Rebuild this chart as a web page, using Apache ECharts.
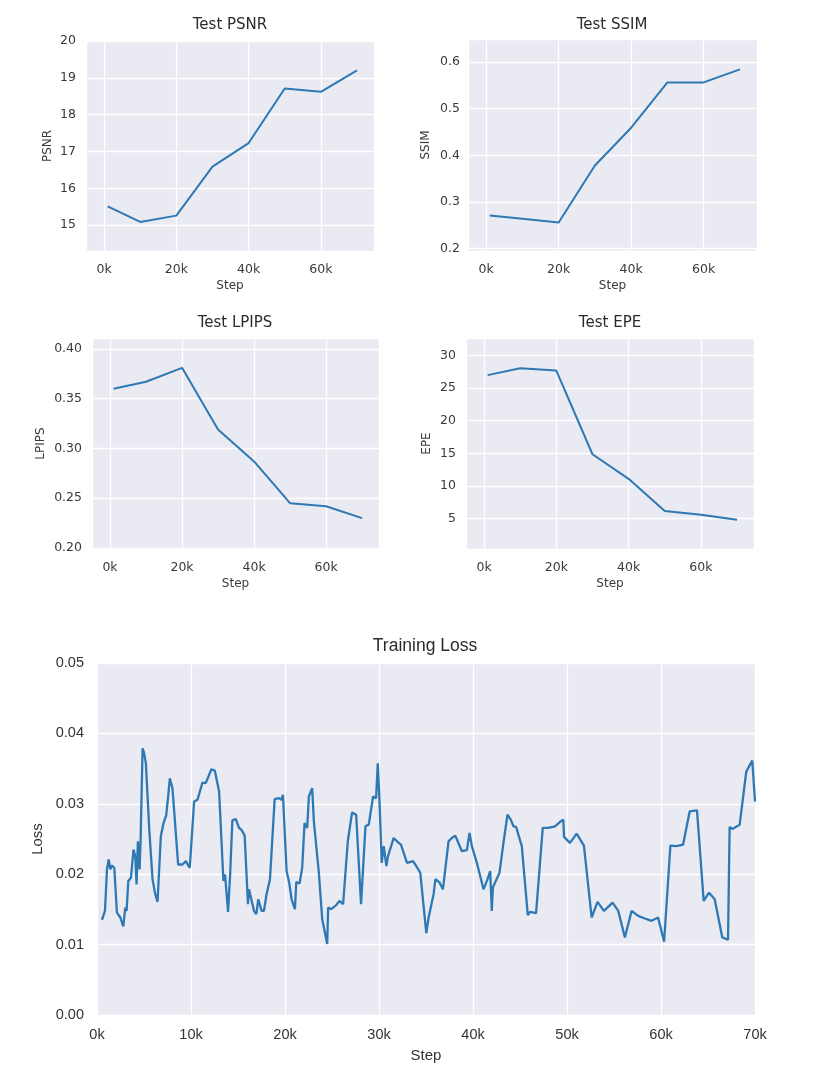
<!DOCTYPE html>
<html>
<head>
<meta charset="utf-8">
<script src="https://cdn.jsdelivr.net/npm/echarts@6/dist/echarts.min.js"></script>
<style>
  html, body { margin: 0; padding: 0; background: #ffffff; }
  #chart { width: 830px; height: 1077px; }
</style>
</head>
<body>
<div id="chart"></div>
<script>
// test metrics, evaluated every 10k steps (first eval just after start)
const testSteps = [1000, 10000, 20000, 30000, 40000, 50000, 60000, 70000];
const psnrValues = [15.51, 15.09, 15.26, 16.59, 17.23, 18.71, 18.62, 19.2];
const ssimValues = [0.271, 0.264, 0.256, 0.378, 0.459, 0.556, 0.556, 0.584];
const lpipsValues = [0.360, 0.367, 0.381, 0.319, 0.287, 0.245, 0.242, 0.230];
const epeValues = [27.0, 28.05, 27.7, 14.85, 11.07, 6.13, 5.57, 4.8];

// training loss
const lossSteps = [
  530, 850, 1060, 1240, 1420, 1590, 1840, 2120, 2480, 2800,
  3010, 3150, 3330, 3610, 3750, 3890, 4070, 4210, 4350, 4530,
  4640, 4850, 5020, 5200, 5560, 5910, 6160, 6440, 6790, 7080,
  7220, 7360, 7570, 7750, 8030, 8630, 9090, 9450, 9870, 10330,
  10690, 11220, 11570, 12170, 12530, 12990, 13450, 13620, 13800, 13940,
  14160, 14400, 14760, 15110, 15360, 15710, 16060, 16170, 16700, 16950,
  17160, 17510, 17760, 18040, 18400, 18900, 19360, 19610, 19780, 20170,
  20450, 20700, 21060, 21200, 21550, 21830, 22080, 22360, 22540, 22720,
  22890, 23070, 23600, 23960, 24490, 24590, 24910, 25370, 25800, 26180,
  26680, 27140, 27570, 28090, 28560, 28910, 29370, 29690, 29870, 30040,
  30290, 30500, 30790, 30960, 31560, 32090, 32340, 32980, 33620, 33970,
  34390, 35030, 35280, 35810, 36000, 36450, 36800, 37400, 37760, 38110,
  38820, 39350, 39630, 39880, 40410, 41120, 41540, 41830, 42000, 42110,
  42820, 43240, 43670, 44020, 44310, 44590, 45190, 45830, 46080, 46710,
  47420, 48020, 48720, 49330, 49610, 49680, 50320, 51030, 51800, 52620,
  53250, 53930, 54850, 55450, 56160, 56870, 57570, 58280, 58990, 59690,
  60330, 61000, 61640, 62350, 63050, 63830, 64540, 65110, 65710, 66520,
  67130, 67300, 67590, 68370, 69070, 69710, 70000
];
const lossValues = [
  0.01352, 0.01479, 0.02068, 0.02209, 0.02068, 0.02124, 0.02091, 0.01455, 0.01385, 0.01258,
  0.01526, 0.01479, 0.01903, 0.0195, 0.0194, 0.0235, 0.02256, 0.01856, 0.02468, 0.02068,
  0.02492, 0.03787, 0.03716, 0.03575, 0.02633, 0.01927, 0.01738, 0.01606, 0.02539, 0.02727,
  0.02784, 0.02831, 0.03104, 0.03363, 0.03222, 0.02138, 0.02138, 0.02186, 0.02091, 0.03033,
  0.03057, 0.03302, 0.03293, 0.0349, 0.03472, 0.03175, 0.01903, 0.01997, 0.02011, 0.01465,
  0.01983, 0.02765, 0.02784, 0.02657, 0.02633, 0.02548, 0.01573, 0.01785, 0.01479, 0.01432,
  0.01644, 0.01479, 0.0148, 0.01715, 0.01927, 0.03066, 0.0308, 0.03057, 0.03128, 0.02044,
  0.01879, 0.01644, 0.01503, 0.01889, 0.0187, 0.02091, 0.02727, 0.02657, 0.03104, 0.03128,
  0.03222, 0.02751, 0.02021, 0.01361, 0.01008, 0.01526, 0.01503, 0.0155, 0.0162, 0.01573,
  0.02468, 0.02878, 0.02845, 0.01573, 0.0268, 0.02704, 0.03104, 0.0308, 0.03575, 0.0308,
  0.02162, 0.02398, 0.02115, 0.02256, 0.02515, 0.02445, 0.02421, 0.02162, 0.02186, 0.02115,
  0.02021, 0.01163, 0.01385, 0.0172, 0.0193, 0.0188, 0.01785, 0.02468, 0.02515, 0.02548,
  0.02327, 0.02341, 0.02586, 0.02398, 0.02162, 0.01785, 0.01927, 0.02044, 0.01479, 0.01809,
  0.02021, 0.02445, 0.02845, 0.02774, 0.0268, 0.02671, 0.02398, 0.01418, 0.01465, 0.01446,
  0.02657, 0.02657, 0.0268, 0.02751, 0.02774, 0.0253, 0.02445, 0.02577, 0.02407, 0.01385,
  0.01606, 0.01479, 0.01597, 0.01479, 0.01102, 0.01479, 0.01408, 0.01371, 0.01338, 0.01385,
  0.01041, 0.02407, 0.02398, 0.02421, 0.02892, 0.02906, 0.0162, 0.01738, 0.01644, 0.01102,
  0.01069, 0.02671, 0.02643, 0.02704, 0.03457, 0.03613, 0.03033
];

const lineColor = "#2e78b4";
const smallFont = "DejaVu Sans";
const bigFont = "Liberation Sans";

function pairs(xs, ys) {
  return xs.map((x, i) => [x, ys[i]]);
}

// the four small seaborn-style panels
const panels = [
  { title: "Test PSNR", name: "PSNR", values: psnrValues, min: 14.3, max: 20, digits: 0,
    grid: { left: 86, top: 41, width: 288, height: 210 }, titleX: 230, titleY: 18, nameGap: 32, labelMargin: 10 },
  { title: "Test SSIM", name: "SSIM", values: ssimValues, min: 0.195, max: 0.649, digits: 1,
    grid: { left: 468, top: 39, width: 289, height: 212 }, titleX: 612, titleY: 18, nameGap: 36, labelMargin: 8 },
  { title: "Test LPIPS", name: "LPIPS", values: lpipsValues, min: 0.199, max: 0.411, digits: 2,
    grid: { left: 92, top: 338, width: 287, height: 211 }, titleX: 235, titleY: 316, nameGap: 45, labelMargin: 10 },
  { title: "Test EPE", name: "EPE", values: epeValues, min: 0.3, max: 32.7, digits: 0,
    grid: { left: 466, top: 338, width: 288, height: 211 }, titleX: 610, titleY: 316, nameGap: 33, labelMargin: 10 },
];

window.addEventListener("DOMContentLoaded", function () {
  const chart = echarts.init(document.getElementById("chart"), null, { renderer: "canvas" });

  const grids = [];
  const xAxes = [];
  const yAxes = [];
  const titles = [];
  const series = [];

  panels.forEach((p, i) => {
    grids.push({ ...p.grid, show: true, backgroundColor: "#eaeaf2", borderWidth: 0 });
    titles.push({
      text: p.title, left: p.titleX, top: p.titleY, textAlign: "center", padding: 0,
      textStyle: { fontFamily: smallFont, fontSize: 15, fontWeight: "normal", color: "#2b2b2b" },
    });
    xAxes.push({
      type: "value", gridIndex: i, min: -5000, max: 74700, splitNumber: 4,
      name: "Step", nameLocation: "middle", nameGap: 29,
      nameTextStyle: { fontFamily: smallFont, fontSize: 12, color: "#3a3a3a" },
      axisLine: { show: false }, axisTick: { show: false },
      axisLabel: {
        showMinLabel: false, showMaxLabel: false, margin: 12,
        fontFamily: smallFont, fontSize: 12.5, color: "#3a3a3a",
        formatter: (v) => v / 1000 + "k",
      },
      splitLine: { show: true, lineStyle: { color: "#ffffff", width: 1.3 } },
    });
    yAxes.push({
      type: "value", gridIndex: i, min: p.min, max: p.max, splitNumber: 5,
      name: p.name, nameLocation: "middle", nameGap: p.nameGap,
      nameTextStyle: { fontFamily: smallFont, fontSize: 12, color: "#3a3a3a" },
      axisLine: { show: false }, axisTick: { show: false },
      axisLabel: {
        showMinLabel: false, showMaxLabel: p.max === 20, margin: p.labelMargin,
        fontFamily: smallFont, fontSize: 12.5, color: "#3a3a3a",
        formatter: (v) => v.toFixed(p.digits),
      },
      splitLine: { show: true, lineStyle: { color: "#ffffff", width: 1.3 } },
    });
    series.push({
      type: "line", xAxisIndex: i, yAxisIndex: i, data: pairs(testSteps, p.values),
      showSymbol: false, lineStyle: { color: lineColor, width: 2 }, animation: false,
    });
  });

  // training loss panel
  grids.push({ left: 97, top: 663, width: 658, height: 352, show: true, backgroundColor: "#eaeaf2", borderWidth: 0 });
  titles.push({
    text: "Training Loss", left: 425, top: 637, textAlign: "center", padding: 0,
    textStyle: { fontFamily: bigFont, fontSize: 17.5, fontWeight: "normal", color: "#2b2b2b" },
  });
  xAxes.push({
    type: "value", gridIndex: 4, min: 0, max: 70000, interval: 10000,
    name: "Step", nameLocation: "middle", nameGap: 33,
    nameTextStyle: { fontFamily: bigFont, fontSize: 15, color: "#333" },
    axisLine: { show: false }, axisTick: { show: false },
    axisLabel: {
      margin: 12, fontFamily: bigFont, fontSize: 14.5, color: "#333",
      formatter: (v) => v / 1000 + "k",
    },
    splitLine: { show: true, lineStyle: { color: "#ffffff", width: 1.3 } },
  });
  yAxes.push({
    type: "value", gridIndex: 4, min: 0, max: 0.05, interval: 0.01,
    name: "Loss", nameLocation: "middle", nameGap: 50,
    nameTextStyle: { fontFamily: bigFont, fontSize: 15, color: "#333" },
    axisLine: { show: false }, axisTick: { show: false },
    axisLabel: {
      margin: 13, fontFamily: bigFont, fontSize: 14.5, color: "#333",
      formatter: (v) => v.toFixed(2),
    },
    splitLine: { show: true, lineStyle: { color: "#ffffff", width: 1.3 } },
  });
  series.push({
    type: "line", xAxisIndex: 4, yAxisIndex: 4, data: pairs(lossSteps, lossValues),
    showSymbol: false, lineStyle: { color: lineColor, width: 2.3 }, animation: false,
  });

  chart.setOption({
    backgroundColor: "#ffffff",
    animation: false,
    title: titles,
    grid: grids,
    xAxis: xAxes,
    yAxis: yAxes,
    series: series,
  });
});
</script>
</body>
</html>
